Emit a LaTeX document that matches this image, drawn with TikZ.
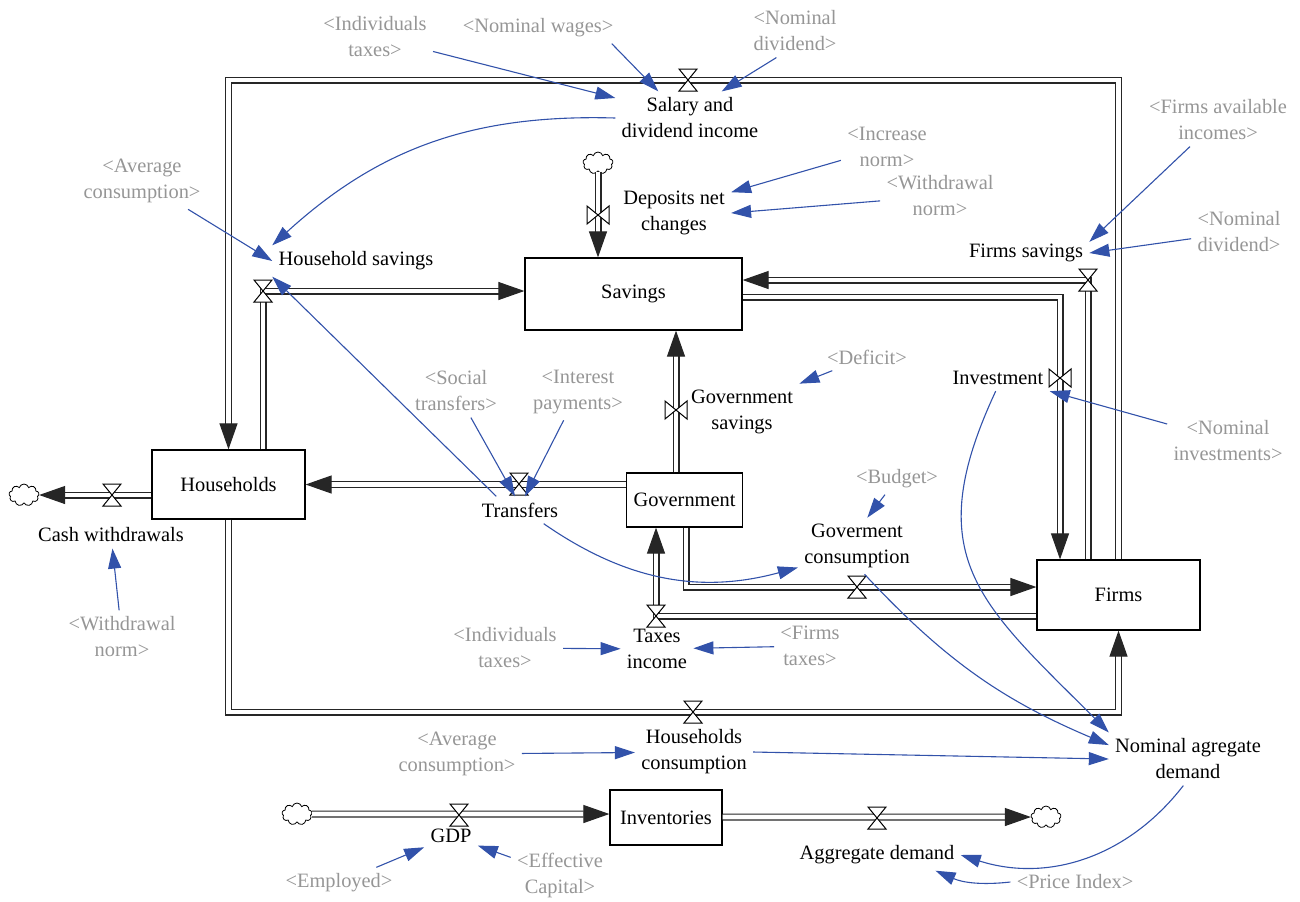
\documentclass[tikz,border=0pt]{standalone}
\usepackage{fontspec}
\setmainfont{Liberation Serif}
\newfontfamily\diagramfont{Liberation Serif}
\usetikzlibrary{arrows.meta,shapes.symbols}
\definecolor{linkblue}{RGB}{50,82,170}
\definecolor{shadowgray}{RGB}{150,150,150}
\tikzset{
    every node/.style={align=center,font=\diagramfont\fontsize{10.2}{13}\selectfont},
    stock/.style={draw,rectangle,fill=white,line width=0.6pt},
    var/.style={inner sep=3pt},
    shadow/.style={inner sep=3pt,text=shadowgray},
    pipe/.style={draw=black!85,line width=0.55pt,double=white,double distance=2.4pt},
    flowtip/.style={-{Triangle[length=13pt,width=9pt]}},
    link/.style={draw=linkblue,line width=0.55pt,-{Triangle[length=10pt,width=6.5pt]}},
    sink/.style={cloud,cloud puffs=9,draw,line width=0.4pt,minimum width=15pt,minimum height=11pt,inner sep=0pt,fill=white},
    valve/.pic={\draw[fill=white,line width=0.5pt] (-9,-11) -- (9,-11) -- (-9,11) -- (9,11) -- cycle;},
}

\begin{document}
\begin{tikzpicture}[x=0.5pt,y=0.5pt]
    \useasboundingbox (0,0) rectangle (1300,-901);

    % stocks
    \node[stock,minimum width=108.5pt,minimum height=36pt] (savings) at (633.5,-294) {Savings};
    \node[stock,minimum width=76.5pt,minimum height=34.5pt] (households) at (228.5,-484.5) {Households};
    \node[stock,minimum width=56.5pt,minimum height=27pt] (government) at (684.5,-500) {Government};
    \node[stock,minimum width=81.5pt,minimum height=35pt] (firms) at (1118.5,-595) {Firms};
    \node[stock,minimum width=56pt,minimum height=27.5pt] (inventories) at (666,-817.5) {Inventories};

    % clouds
    \node[sink] (cloudDep) at (598,-163) {};
    \node[sink] (cloudCash) at (24,-495) {};
    \node[sink] (cloudGdp) at (297,-814) {};
    \node[sink] (cloudAd) at (1046,-817) {};

    % pipe corners
    \coordinate (outerTop) at (0,-80);
    \coordinate (outerBottom) at (0,-712);
    \coordinate (hsavBend) at (263,-291);
    \coordinate (fsavBend) at (1088,-280);
    \coordinate (invBend) at (1060,-297);
    \coordinate (gsavPipe) at (676,-410);
    \coordinate (taxBend) at (656,-616);
    \coordinate (gconsBend) at (686,-587);
    \coordinate (cashPipe) at (112,-495);

    % flows
    \draw[pipe,flowtip] (firms.north) -- (firms.north |- outerTop) -- (households.north |- outerTop) -- (households.north);
    \draw[pipe,flowtip] (households.south) -- (households.south |- outerBottom) -- (firms.south |- outerBottom) -- (firms.south);
    \draw[pipe,flowtip] (households.north -| hsavBend) -- (hsavBend) -- (savings.west |- hsavBend);
    \draw[pipe,flowtip] (firms.north -| fsavBend) -- (fsavBend) -- (savings.east |- fsavBend);
    \draw[pipe,flowtip] (savings.east |- invBend) -- (invBend) -- (firms.north -| invBend);
    \draw[pipe,flowtip] (cloudDep.south) -- (savings.north -| cloudDep);
    \draw[pipe,flowtip] (government.north -| gsavPipe) -- (savings.south -| gsavPipe);
    \draw[pipe,flowtip] (government.west |- households.east) -- (households.east);
    \draw[pipe,flowtip] (firms.west |- taxBend) -- (taxBend) -- (government.south -| taxBend);
    \draw[pipe,flowtip] (government.south -| gconsBend) -- (gconsBend) -- (firms.west |- gconsBend);
    \draw[pipe,flowtip] (households.west |- cashPipe) -- (cloudCash.east |- cashPipe);
    \draw[pipe,flowtip] (cloudGdp.east) -- (inventories.west |- cloudGdp);
    \draw[pipe,flowtip] (inventories.east |- cloudAd) -- (cloudAd.west);

    % valves
    \pic at (688,-80) {valve};
    \pic at (hsavBend) {valve};
    \pic[rotate=90] at (598,-215) {valve};
    \pic at (fsavBend) {valve};
    \pic[rotate=90] at (1060,-378) {valve};
    \pic[rotate=90] at (gsavPipe) {valve};
    \pic at (519,-484) {valve};
    \pic at (taxBend) {valve};
    \pic at (857,-587) {valve};
    \pic at (cashPipe) {valve};
    \pic at (693,-712) {valve};
    \pic at (459,-815) {valve};
    \pic at (877,-818) {valve};

    % flow variables
    \node[var] (salary) at (690,-118) {Salary and\\dividend income};
    \node[var] (hhSavings) at (356,-261) {Household savings};
    \node[var] (deposits) at (674,-213) {Deposits net\\changes};
    \node[var] (firmsSavings) at (1026,-253) {Firms savings};
    \node[var] (govSavings) at (742,-412) {Government\\savings};
    \node[var] (investment) at (998,-378) {Investment};
    \node[var] (transfers) at (520,-510) {Transfers};
    \node[var] (govCons) at (857,-546) {Goverment\\consumption};
    \node[var] (taxes) at (657,-649) {Taxes\\income};
    \node[var] (cashWd) at (111,-535) {Cash withdrawals};
    \node[var] (hhCons) at (694,-752) {Households\\consumption};
    \node[var] (nomAggDemand) at (1188,-759) {Nominal agregate\\demand};
    \node[var] (gdp) at (451,-836) {GDP};
    \node[var] (aggDemand) at (877,-855) {Aggregate demand};

    % shadow variables
    \node[shadow] (indTaxes1) at (375,-37) {<Individuals\\taxes>};
    \node[shadow] (nomWages) at (538,-28) {<Nominal wages>};
    \node[shadow] (nomDividend1) at (795,-31) {<Nominal\\dividend>};
    \node[shadow] (avgCons1) at (142,-181) {<Average\\consumption>};
    \node[shadow] (incNorm) at (887,-147) {<Increase\\norm>};
    \node[shadow] (wdNorm1) at (940,-196) {<Withdrawal\\norm>};
    \node[shadow] (firmsAvail) at (1218,-120) {<Firms available\\incomes>};
    \node[shadow] (nomDividend2) at (1239,-232) {<Nominal\\dividend>};
    \node[shadow] (deficit) at (867,-357) {<Deficit>};
    \node[shadow] (socTransfers) at (456,-391) {<Social\\transfers>};
    \node[shadow] (intPayments) at (578,-392) {<Interest\\payments>};
    \node[shadow] (nomInvest) at (1228,-441) {<Nominal\\investments>};
    \node[shadow] (budget) at (897,-479) {<Budget>};
    \node[shadow] (wdNorm2) at (122,-637) {<Withdrawal\\norm>};
    \node[shadow] (indTaxes2) at (505,-648) {<Individuals\\taxes>};
    \node[shadow] (firmsTaxes) at (810,-646) {<Firms\\taxes>};
    \node[shadow] (avgCons2) at (457,-754) {<Average\\consumption>};
    \node[shadow] (employed) at (339,-883) {<Employed>};
    \node[shadow] (effCapital) at (560,-875) {<Effective\\Capital>};
    \node[shadow] (priceIndex) at (1075,-882) {<Price Index>};

    % links
    \draw[link] (indTaxes1.-14) -- (salary.165);
    \draw[link] (nomWages.-12) -- (salary.140);
    \draw[link] (nomDividend1.235) -- (salary.40);
    \draw[link] (salary.west) to[bend right=22] (hhSavings.north west);
    \draw[link] (avgCons1) -- (hhSavings.west);
    \draw[link] (transfers.150) -- (hhSavings.south west);
    \draw[link] (incNorm) -- (deposits.20);
    \draw[link] (wdNorm1) -- (deposits.east);
    \draw[link] (firmsAvail) -- (firmsSavings.10);
    \draw[link] (nomDividend2) -- (firmsSavings.east);
    \draw[link] (deficit) -- (govSavings.north east);
    \draw[link] (socTransfers) -- (transfers.110);
    \draw[link] (intPayments) -- (transfers.70);
    \draw[link] (nomInvest) -- (investment.south east);
    \draw[link] (budget) -- (govCons.70);
    \draw[link] (transfers.-30) to[bend right=25] (govCons.200);
    \draw[link] (wdNorm2) -- (cashWd);
    \draw[link] (indTaxes2) -- (taxes);
    \draw[link] (firmsTaxes) -- (taxes);
    \draw[link] (investment.-100) to[out=-115,in=135,looseness=1.3] (nomAggDemand.north west);
    \draw[link] (govCons.-75) to[bend right=12] (nomAggDemand.170);
    \draw[link] (avgCons2) -- (hhCons);
    \draw[link] (hhCons.east) -- (nomAggDemand.west);
    \draw[link] (nomAggDemand.-100) to[bend left=35] (aggDemand.east);
    \draw[link] (employed) -- (gdp);
    \draw[link] (effCapital) -- (gdp);
    \draw[link] (priceIndex.west) to[bend left=15] (aggDemand.-15);
\end{tikzpicture}
\end{document}
